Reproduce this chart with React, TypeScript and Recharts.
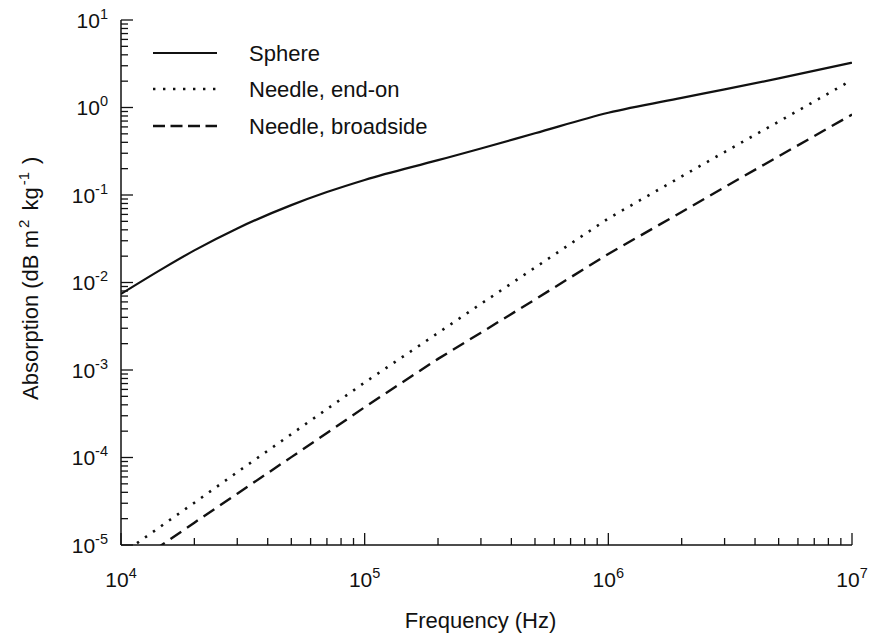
import React from "react";
import { LineChart, Line, XAxis, YAxis, Legend, Label } from "recharts";

// frequency grid (Hz)
const freq = [1e4, 1.5e4, 2e4, 3e4, 5e4, 7e4, 1e5, 2e5, 3e5, 5e5, 1e6, 2e6, 3e6, 5e6, 1e7];
// absorption, dB m^2 kg^-1
const sphere = [0.0074, 0.0147, 0.0233, 0.0415, 0.0766, 0.108, 0.1486, 0.25, 0.34, 0.507, 0.87, 1.29, 1.61, 2.15, 3.25];
const needleEndOn = [7.8e-6, 1.73e-5, 3.04e-5, 6.8e-5, 1.85e-4, 3.57e-4, 7.2e-4, 2.65e-3, 5.7e-3, 0.0148, 0.054, 0.163, 0.31, 0.69, 2.06];
const needleBroadside = [4.8e-6, 1.04e-5, 1.8e-5, 3.86e-5, 1.01e-4, 1.91e-4, 3.76e-4, 1.34e-3, 2.67e-3, 6.4e-3, 0.0212, 0.064, 0.123, 0.277, 0.83];

const seriesNames = ["Sphere", "Needle, end-on", "Needle, broadside"];

// tick decades (exponents) and minor multipliers
const xDecades = [4, 5, 6, 7];
const yDecades = [-5, -4, -3, -2, -1, 0, 1];
const minorSteps = [2, 3, 4, 5, 6, 7, 8, 9];

function logTicks(decades: number[]) {
  const out: number[] = [];
  decades.forEach((d, i) => {
    out.push(Math.pow(10, d));
    if (i < decades.length - 1) minorSteps.forEach((m) => out.push(m * Math.pow(10, d)));
  });
  return out;
}

const xTicks = logTicks(xDecades);
const yTicks = logTicks(yDecades);

const data = freq.map((f, i) => ({
  f,
  sphere: sphere[i],
  endOn: needleEndOn[i],
  broadside: needleBroadside[i],
}));

const FONT = "'Liberation Sans', Arial, Helvetica, sans-serif";
const INK = "#111";

const styles = [
  { key: "sphere", dash: undefined, width: 2.2, type: "monotone" },
  { key: "endOn", dash: "2.4 7.4", width: 2.6, type: "linear" },
  { key: "broadside", dash: "13 7", width: 2.4, type: "linear" },
];

function exponent(v: number) {
  const e = Math.log10(v);
  const r = Math.round(e);
  return Math.abs(e - r) < 1e-6 ? r : null;
}

function Power({ x, y, e, anchor }: any) {
  return (
    <text x={x} y={y} textAnchor={anchor} fontFamily={FONT} fontSize={21} fill={INK}>
      10
      <tspan dy={-9} fontSize={14.5}>
        {String(e)}
      </tspan>
    </text>
  );
}

function XTick({ x, y, payload, dir, labels }: any) {
  const e = exponent(payload.value);
  const len = e !== null ? 12 : 7;
  return (
    <g>
      <line x1={x} x2={x} y1={y} y2={y + dir * len} stroke={INK} strokeWidth={1.3} />
      {labels && e !== null && <Power x={x} y={y + 42} e={e} anchor="middle" />}
    </g>
  );
}

function YTick({ x, y, payload, dir, labels }: any) {
  const e = exponent(payload.value);
  const len = e !== null ? 12 : 7;
  return (
    <g>
      <line x1={x} x2={x + dir * len} y1={y} y2={y} stroke={INK} strokeWidth={1.3} />
      {labels && e !== null && <Power x={x - 13} y={y + 7.5} e={e} anchor="end" />}
    </g>
  );
}

function LegendBox() {
  const rows = [20, 56, 93];
  return (
    <svg width={340} height={115}>
      {styles.map((s, i) => (
        <g key={s.key}>
          <line
            x1={3}
            x2={67}
            y1={rows[i]}
            y2={rows[i]}
            stroke={INK}
            strokeWidth={s.width}
            strokeDasharray={s.key === "endOn" ? "2.4 7.6" : s.key === "broadside" ? "12 5.5" : undefined}
          />
          <text x={99} y={rows[i] + 8} fontFamily={FONT} fontSize={22} fill={INK}>
            {seriesNames[i]}
          </text>
        </g>
      ))}
    </svg>
  );
}

export default function App() {
  const axisLine = { stroke: INK, strokeWidth: 1.5 };
  return (
    <div style={{ position: "absolute", left: 0, top: 0, background: "#fff" }}>
      <LineChart width={873} height={641} data={data} margin={{ top: 20, right: 21, bottom: 0, left: 0 }}>
        <XAxis
          dataKey="f"
          type="number"
          scale="log"
          domain={[1e4, 1e7]}
          allowDataOverflow
          ticks={xTicks}
          interval={0}
          height={96}
          tickSize={0}
          tickMargin={0}
          tickLine={false}
          axisLine={axisLine}
          tick={(p: any) => <XTick {...p} dir={-1} labels />}
        >
          <Label
            content={({ viewBox }: any) => (
              <text
                x={viewBox.x + viewBox.width / 2 - 6}
                y={viewBox.y + 83}
                textAnchor="middle"
                fontFamily={FONT}
                fontSize={22}
                fill={INK}
              >
                Frequency (Hz)
              </text>
            )}
          />
        </XAxis>
        <XAxis
          xAxisId="top"
          orientation="top"
          dataKey="f"
          type="number"
          scale="log"
          domain={[1e4, 1e7]}
          allowDataOverflow
          ticks={xTicks}
          interval={0}
          height={0}
          tickSize={0}
          tickMargin={0}
          tickLine={false}
          axisLine={axisLine}
          tick={(p: any) => <XTick {...p} dir={1} labels={false} />}
        />
        <YAxis
          type="number"
          scale="log"
          domain={[1e-5, 10]}
          allowDataOverflow
          ticks={yTicks}
          interval={0}
          width={121}
          tickSize={0}
          tickMargin={0}
          tickLine={false}
          axisLine={axisLine}
          tick={(p: any) => <YTick {...p} dir={1} labels />}
        >
          <Label
            content={({ viewBox }: any) => {
              const cx = viewBox.x + 38;
              const cy = viewBox.y + 380;
              return (
                <text
                  x={cx}
                  y={cy}
                  transform={`rotate(-90 ${cx} ${cy})`}
                  textAnchor="start"
                  fontFamily={FONT}
                  fontSize={22}
                  fill={INK}
                >
                  Absorption (dB m
                  <tspan dx={2} dy={-9} fontSize={15}>2</tspan>
                  <tspan dx={3} dy={9}> kg</tspan>
                  <tspan dx={2} dy={-9} fontSize={15}>-1</tspan>
                  <tspan dx={8} dy={9}>)</tspan>
                </text>
              );
            }}
          />
        </YAxis>
        <YAxis
          yAxisId="right"
          orientation="right"
          type="number"
          scale="log"
          domain={[1e-5, 10]}
          allowDataOverflow
          ticks={yTicks}
          interval={0}
          width={0}
          tickSize={0}
          tickMargin={0}
          tickLine={false}
          axisLine={axisLine}
          tick={(p: any) => <YTick {...p} dir={-1} labels={false} />}
        />
        <Legend
          layout="horizontal"
          verticalAlign="middle"
          align="center"
          wrapperStyle={{ position: "absolute", left: 150, top: 33, width: 340, height: 115 }}
          content={() => <LegendBox />}
        />
        {styles.map((s, i) => (
          <Line
            key={s.key}
            name={seriesNames[i]}
            dataKey={s.key}
            type={s.type as any}
            stroke={INK}
            strokeWidth={s.width}
            strokeDasharray={s.dash}
            dot={false}
            activeDot={false}
            isAnimationActive={false}
          />
        ))}
      </LineChart>
    </div>
  );
}
